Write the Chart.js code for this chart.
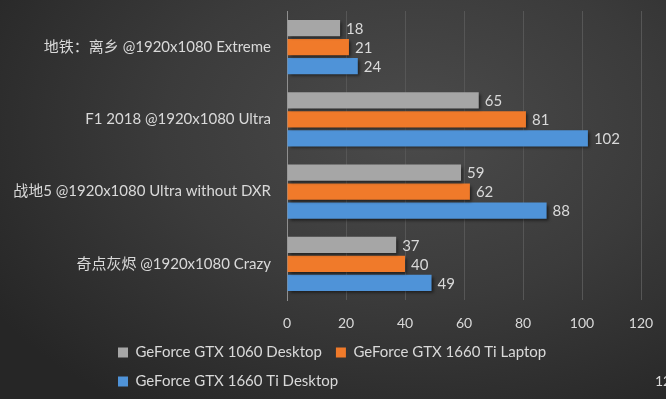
<!DOCTYPE html>
<html>
<head>
<meta charset="utf-8">
<script src="https://cdn.jsdelivr.net/npm/chart.js@4.4.1/dist/chart.umd.min.js"></script>
<style>
  html, body { margin: 0; padding: 0; }
  body {
    width: 666px;
    height: 399px;
    overflow: hidden;
    background: radial-gradient(ellipse 75% 85% at 62% 32%, #4b4b4b 0%, #3b3b3b 50%, #262626 100%);
  }
  canvas { display: block; }
</style>
</head>
<body>
<canvas id="chart" width="666" height="399"></canvas>
<script>
// games tested (top to bottom)
const games = [
    "地铁：离乡 @1920x1080 Extreme",
    "F1 2018 @1920x1080 Ultra",
    "战地5 @1920x1080 Ultra without DXR",
    "奇点灰烬 @1920x1080 Crazy",
];
const seriesNames = [
    "GeForce GTX 1060 Desktop",
    "GeForce GTX 1660 Ti Laptop",
    "GeForce GTX 1660 Ti Desktop",
];
// fps
const gtx1060Desktop = [18, 65, 59, 37];
const gtx1660TiLaptop = [21, 81, 62, 40];
const gtx1660TiDesktop = [24, 102, 88, 49];
const xMin = 0;
const xMax = 120;
const xStep = 20;

const FONT = '"Lato", "Noto Sans CJK SC", sans-serif';
const TEXT = "#d9d9d9";

Chart.defaults.font.family = FONT;
Chart.defaults.color = TEXT;

// soft drop shadow under the bars
const barShadow = {
    id: "barShadow",
    beforeDatasetsDraw(chart) {
        const ctx = chart.ctx;
        ctx.save();
        ctx.shadowColor = "rgba(0, 0, 0, 0.55)";
        ctx.shadowOffsetX = 2;
        ctx.shadowOffsetY = 2;
        ctx.shadowBlur = 3;
    },
    afterDatasetsDraw(chart) {
        chart.ctx.restore();
    },
};

// value written at the end of every bar
const valueLabels = {
    id: "valueLabels",
    afterDatasetsDraw(chart) {
        const ctx = chart.ctx;
        ctx.save();
        ctx.font = "15px " + FONT;
        ctx.fillStyle = TEXT;
        ctx.textAlign = "left";
        ctx.textBaseline = "middle";
        chart.data.datasets.forEach((ds, i) => {
            chart.getDatasetMeta(i).data.forEach((bar, j) => {
                ctx.fillText(ds.data[j], bar.x + 6, bar.y + 1);
            });
        });
        ctx.restore();
    },
    afterDraw(chart) {
        // clipped number at the right edge of the screenshot
        const ctx = chart.ctx;
        ctx.save();
        ctx.font = "14px " + FONT;
        ctx.fillStyle = TEXT;
        ctx.textBaseline = "middle";
        ctx.fillText("120", 655, 381);
        ctx.restore();
    },
};

// legend rows start left-aligned under the labels, not centred
const legendStart = {
    id: "legendStart",
    afterLayout(chart) {
        chart.legend.left = 104;
    },
};

new Chart(document.getElementById("chart").getContext("2d"), {
    type: "bar",
    data: {
        labels: games,
        datasets: [
            { label: seriesNames[0], data: gtx1060Desktop, backgroundColor: "#a6a6a6" },
            { label: seriesNames[1], data: gtx1660TiLaptop, backgroundColor: "#f07a2a" },
            { label: seriesNames[2], data: gtx1660TiDesktop, backgroundColor: "#4f93d8" },
        ],
    },
    options: {
        indexAxis: "y",
        responsive: false,
        animation: false,
        categoryPercentage: 0.79,
        barPercentage: 0.85,
        layout: { padding: { top: 11, right: 25, left: 0, bottom: 0 } },
        plugins: {
            legend: {
                position: "bottom",
                align: "start",
                labels: {
                    boxWidth: 10,
                    boxHeight: 10,
                    padding: 14,
                    color: TEXT,
                    font: { size: 15 },
                },
            },
            tooltip: { enabled: false },
        },
        scales: {
            x: {
                min: xMin,
                max: xMax,
                ticks: { stepSize: xStep, padding: 15, color: TEXT, font: { size: 14 } },
                grid: { color: "#565656", drawTicks: false },
                border: { display: false },
                afterFit(axis) {
                    axis.height = 31;
                    axis.paddingLeft = 0;
                    axis.paddingRight = 0;
                },
            },
            y: {
                ticks: { padding: 16, color: TEXT, font: { size: 15 } },
                grid: { display: false, drawTicks: false },
                border: { display: true, color: "#8f8f8f", width: 1 },
                afterFit(axis) {
                    axis.width = 287;
                    axis.paddingTop = 0;
                    axis.paddingBottom = 0;
                },
            },
        },
    },
    plugins: [barShadow, valueLabels, legendStart],
});
</script>
</body>
</html>
